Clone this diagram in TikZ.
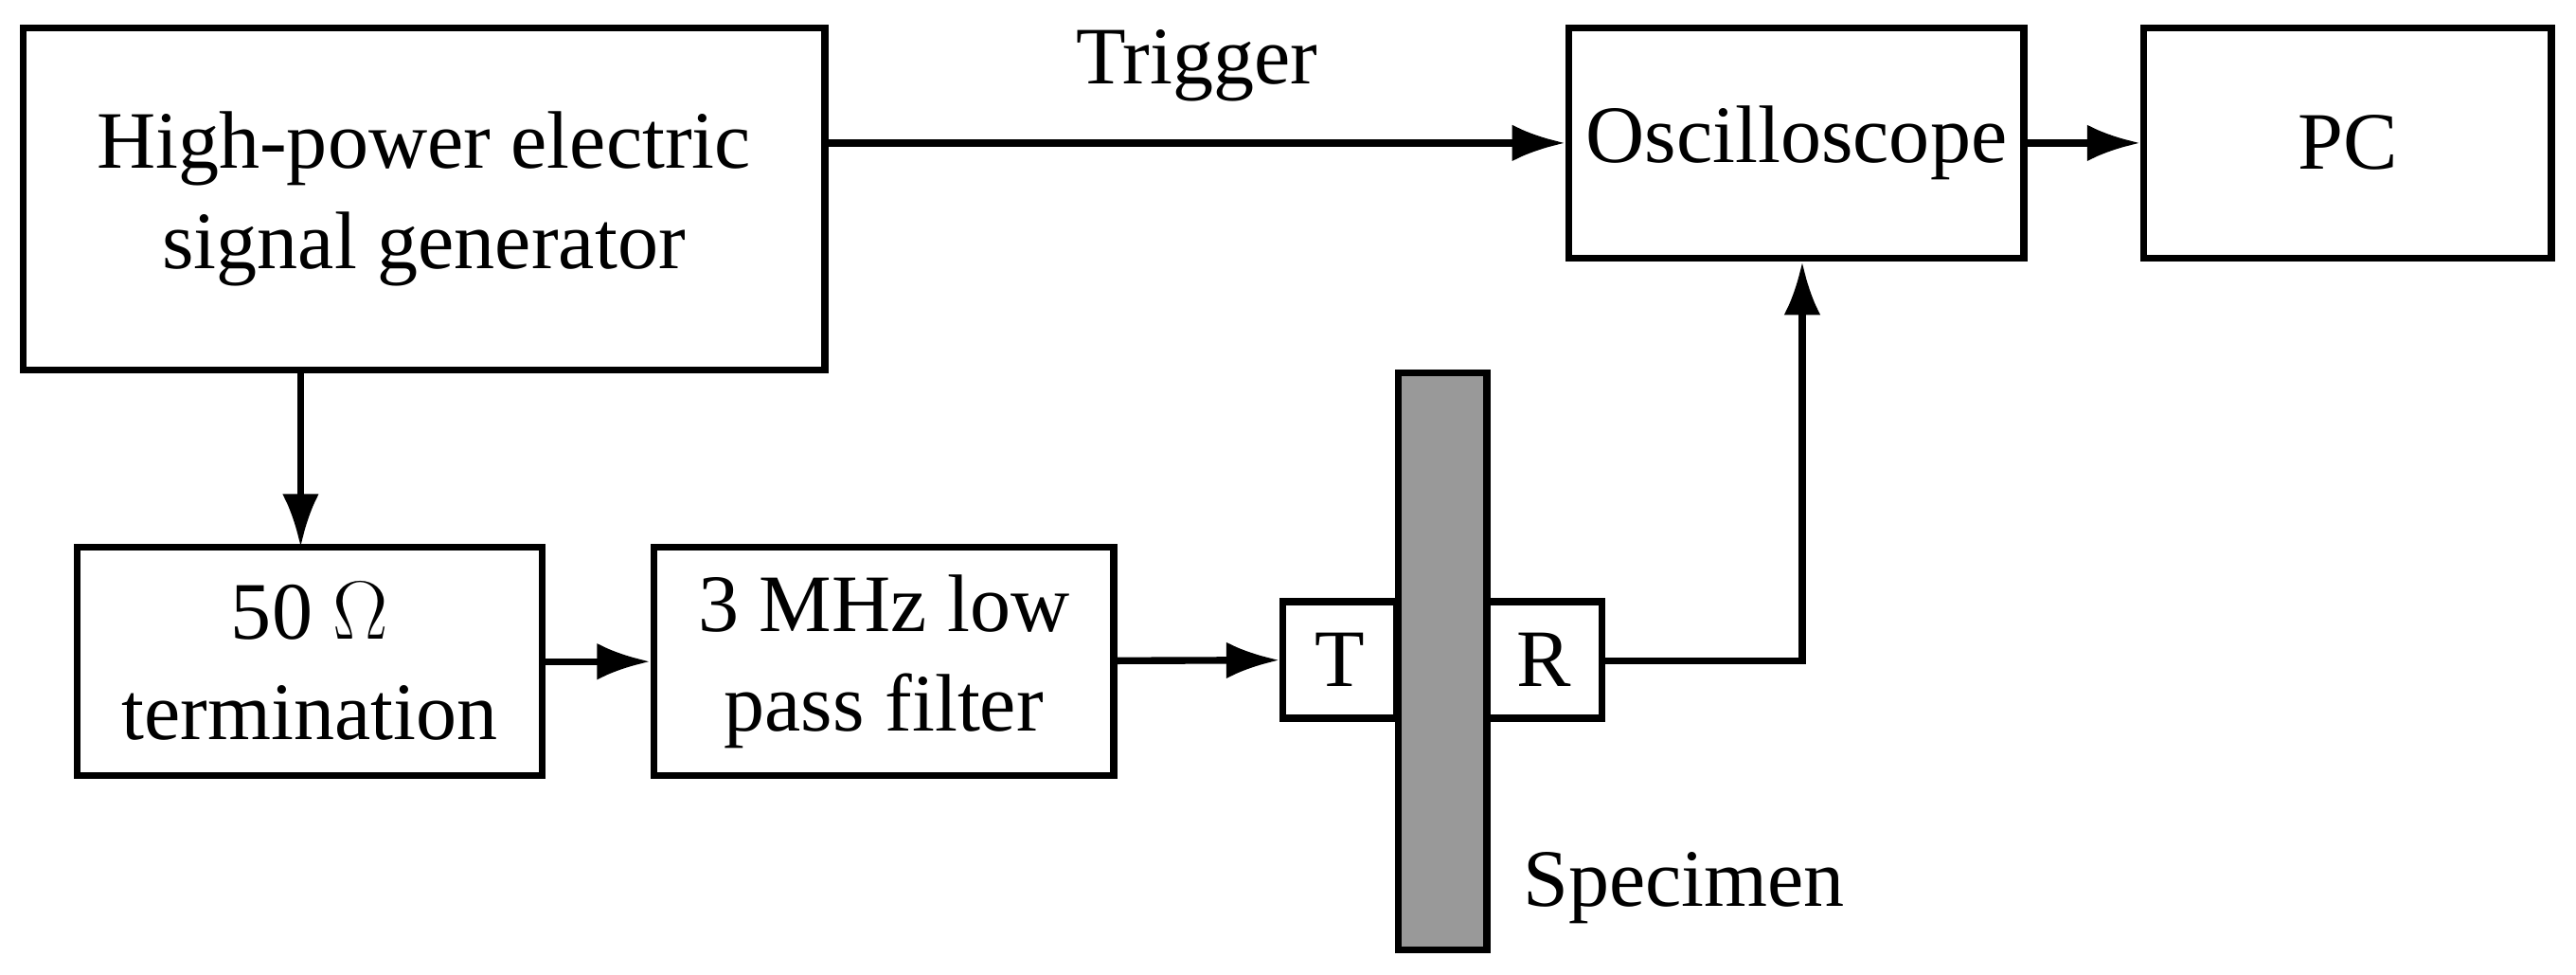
\documentclass[tikz,border=0pt]{standalone}
\usepackage{fontspec}
\setmainfont{Liberation Serif}
\usetikzlibrary{arrows.meta}
\begin{document}
\begin{tikzpicture}[x=0.01735cm,y=-0.01735cm,
  box/.style={draw,line width=2.1pt,inner sep=0pt,align=center,font=\fontsize{24.5}{30}\selectfont},
  arr/.style={line width=2.1pt,-{Latex[length=16pt,width=11pt]}},
  lbl/.style={font=\fontsize{24.5}{30}\selectfont}]
\useasboundingbox (0,0) rectangle (1568,593);
\node[box,minimum width=488*0.01735cm,minimum height=208*0.01735cm] (gen) at (258,121) {High-power electric\\signal generator};
\node[box,minimum width=277*0.01735cm,minimum height=140*0.01735cm] (osc) at (1093.5,87) {Oscilloscope};
\node[box,minimum width=248*0.01735cm,minimum height=140*0.01735cm] (pc) at (1429,87) {PC};
\node[box,minimum width=283*0.01735cm,minimum height=139*0.01735cm] (term) at (188.5,402.5) {50 $\Omega$\\termination};
\node[box,minimum width=280*0.01735cm,minimum height=139*0.01735cm] (filt) at (538,402.5) {3 MHz low\\pass filter};
\node[box,fill=gray!80,minimum width=54*0.01735cm,minimum height=351*0.01735cm] (spec) at (878,402.5) {};
\node[box,minimum width=69*0.01735cm,minimum height=71*0.01735cm] (T) at (815.5,401.5) {T};
\node[box,minimum width=70*0.01735cm,minimum height=71*0.01735cm] (R) at (940,401.5) {R};
\node[lbl] (speclbl) at (1025,540) {Specimen};
\draw[arr] (gen.east |- osc) -- node[lbl,above=8pt] (trig) {Trigger} (osc.west);
\draw[arr] (osc) -- (pc);
\draw[arr] (183,225) -- (183,333);
\draw[arr] (term) -- (filt);
\draw[arr] (filt) -- (T);
\coordinate (c) at (1097,402);
\draw[arr] (R.east |- c) -- (c) -- (c |- osc.south);
\end{tikzpicture}
\end{document}
